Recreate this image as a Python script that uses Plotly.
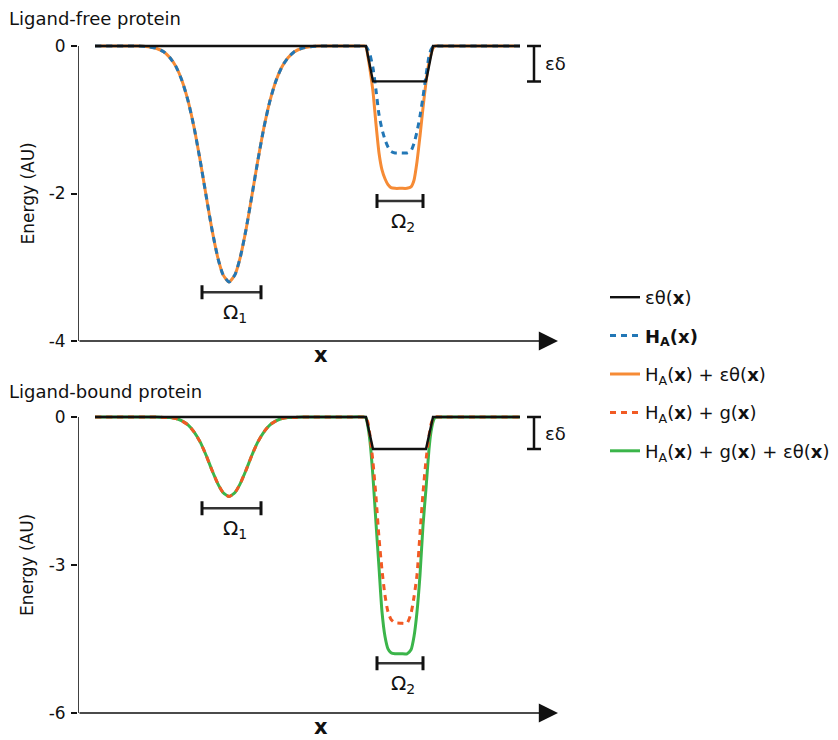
import plotly.graph_objects as go

# ---------------- data ----------------
# position along x (arbitrary units)
x_pos = [17, 50, 60, 70, 78, 86, 92, 98, 104, 110, 116, 122, 128, 134, 140, 145,
         151, 157, 162, 168, 174, 180, 186, 192, 198, 204, 210, 216, 224, 232, 242, 255, 270,
         286, 288, 290, 292, 295, 298, 301, 304, 307, 310, 313, 317, 323, 329, 333,
         336, 339, 342, 345, 348, 351, 353, 355, 357, 365, 400, 442]

# Ligand-free protein
free_HA = [0, 0, 0, -0.01, -0.03, -0.08, -0.16, -0.28, -0.47, -0.74, -1.10, -1.54, -2.02, -2.49, -2.88, -3.10,
           -3.20, -3.10, -2.88, -2.49, -2.02, -1.54, -1.10, -0.74, -0.47, -0.28, -0.16, -0.08, -0.03, -0.01, 0, 0, 0,
           0, -0.01, -0.05, -0.12, -0.30, -0.60, -0.93, -1.13, -1.27, -1.37, -1.43, -1.45, -1.45, -1.45, -1.42,
           -1.32, -1.16, -0.95, -0.69, -0.40, -0.14, -0.05, -0.01, 0, 0, 0, 0]
free_HA_theta = [0, 0, 0, -0.01, -0.03, -0.08, -0.16, -0.28, -0.47, -0.74, -1.10, -1.54, -2.02, -2.49, -2.88, -3.10,
                 -3.20, -3.10, -2.88, -2.49, -2.02, -1.54, -1.10, -0.74, -0.47, -0.28, -0.16, -0.08, -0.03, -0.01, 0, 0, 0,
                 0, -0.01, -0.15, -0.32, -0.62, -1.06, -1.45, -1.68, -1.80, -1.88, -1.92, -1.93, -1.93, -1.93, -1.91,
                 -1.82, -1.57, -1.22, -0.84, -0.49, -0.22, -0.11, -0.03, 0, 0, 0, 0]

# Ligand-bound protein
bound_HA_g = [0, 0, 0, 0, 0, -0.01, -0.01, -0.03, -0.08, -0.16, -0.30, -0.50, -0.77, -1.08, -1.36, -1.53,
              -1.61, -1.53, -1.36, -1.08, -0.77, -0.50, -0.30, -0.16, -0.08, -0.03, -0.01, -0.01, 0, 0, 0, 0, 0,
              0, -0.01, -0.12, -0.38, -0.92, -1.62, -2.45, -3.10, -3.62, -3.95, -4.10, -4.17, -4.18, -4.18, -3.98,
              -3.65, -3.20, -2.36, -1.54, -0.88, -0.38, -0.15, -0.03, 0, 0, 0, 0]
bound_HA_g_theta = [0, 0, 0, 0, 0, -0.01, -0.01, -0.03, -0.08, -0.16, -0.30, -0.50, -0.77, -1.08, -1.36, -1.53,
                    -1.61, -1.53, -1.36, -1.08, -0.77, -0.50, -0.30, -0.16, -0.08, -0.03, -0.01, -0.01, 0, 0, 0, 0, 0,
                    0, -0.02, -0.20, -0.50, -1.22, -2.15, -3.05, -3.95, -4.45, -4.70, -4.78, -4.80, -4.80, -4.80, -4.72,
                    -4.45, -3.95, -3.20, -2.20, -1.45, -0.65, -0.30, -0.10, -0.01, 0, 0, 0]

# epsilon * theta(x): step-like penalty over region Omega_2
theta_x = [17, 288, 295, 348, 355, 442]
free_theta = [0, 0, -0.48, -0.48, 0, 0]
bound_theta = [0, 0, -0.65, -0.65, 0, 0]

# region brackets (x extents) and bracket heights
omega1_x = [124, 183]
omega2_x = [299, 345]
free_omega_y = [-3.34, -2.10]
bound_omega_y = [-1.85, -4.99]
eps_delta_x = 456
free_eps_delta = -0.48
bound_eps_delta = -0.65

free_ticks = [0, -2, -4]
bound_ticks = [0, -3, -6]

# ---------------- styling ----------------
W, H = 838, 740
FONT = "DejaVu Sans"
C_BLACK = "#111111"
C_BLUE = "#2277B6"
C_ORANGE = "#F68B35"
C_RED = "#F15A24"
C_GREEN = "#3BB54A"
LW = 3
DASH = "6px,5px"

X_LEFT, X_RIGHT = 78, 558          # pixel extent of the x axis
X_RANGE = [0, 480]
TOP_Y0, TOP_Y4 = 46, 341           # pixels of y=0 and y=-4 (top)
BOT_Y0, BOT_Y6 = 417, 713          # pixels of y=0 and y=-6 (bottom)


def px2paper_y(p):
    return 1 - p / H


def domain(p_zero, p_min, vmin, pad):
    s = (p_min - p_zero) / (-vmin)
    top = p_zero - pad * s
    bot = p_min + pad * s
    return [px2paper_y(bot), px2paper_y(top)], [vmin - pad, pad]


top_dom, top_rng = domain(TOP_Y0, TOP_Y4, -4, 0.1)
bot_dom, bot_rng = domain(BOT_Y0, BOT_Y6, -6, 0.15)

fig = go.Figure()

# top panel traces
fig.add_trace(go.Scatter(x=x_pos, y=free_HA_theta, mode="lines", xaxis="x", yaxis="y",
                         line=dict(color=C_ORANGE, width=LW, shape="spline", smoothing=0.6),
                         name="H<sub>A</sub>(<b>x</b>) + εθ(<b>x</b>)", legendrank=3))
fig.add_trace(go.Scatter(x=x_pos, y=free_HA, mode="lines", xaxis="x", yaxis="y",
                         line=dict(color=C_BLUE, width=LW, dash=DASH, shape="spline", smoothing=0.6),
                         name="<b>H<sub>A</sub>(x)</b>", legendrank=2))
fig.add_trace(go.Scatter(x=theta_x, y=free_theta, mode="lines", xaxis="x", yaxis="y",
                         line=dict(color=C_BLACK, width=2.4),
                         name="εθ(<b>x</b>)", legendrank=1))

# bottom panel traces
fig.add_trace(go.Scatter(x=x_pos, y=bound_HA_g_theta, mode="lines", xaxis="x2", yaxis="y2",
                         line=dict(color=C_GREEN, width=LW, shape="spline", smoothing=0.6),
                         name="H<sub>A</sub>(<b>x</b>) + g(<b>x</b>) + εθ(<b>x</b>)", legendrank=5))
fig.add_trace(go.Scatter(x=x_pos, y=bound_HA_g, mode="lines", xaxis="x2", yaxis="y2",
                         line=dict(color=C_RED, width=LW, dash=DASH, shape="spline", smoothing=0.6),
                         name="H<sub>A</sub>(<b>x</b>) + g(<b>x</b>)", legendrank=4))
fig.add_trace(go.Scatter(x=theta_x, y=bound_theta, mode="lines", xaxis="x2", yaxis="y2",
                         line=dict(color=C_BLACK, width=2.4), showlegend=False))

xdom = [X_LEFT / W, X_RIGHT / W]
axis_common = dict(showgrid=False, zeroline=False, showline=False, automargin=False)
fig.update_layout(
    width=W, height=H,
    margin=dict(l=0, r=0, t=0, b=0, autoexpand=False),
    paper_bgcolor="white", plot_bgcolor="white",
    font=dict(family=FONT, size=17, color="#111111"),
    xaxis=dict(domain=xdom, range=X_RANGE, visible=False, **axis_common),
    xaxis2=dict(domain=xdom, range=X_RANGE, visible=False, **axis_common),
    yaxis=dict(domain=top_dom, range=top_rng, tickvals=free_ticks, ticktext=[str(t) for t in free_ticks],
               ticks="outside", ticklen=6, tickwidth=1.5, tickcolor="#111111",
               ticklabelstandoff=2, **axis_common),
    yaxis2=dict(domain=bot_dom, range=bot_rng, tickvals=bound_ticks, ticktext=[str(t) for t in bound_ticks],
                ticks="outside", ticklen=6, tickwidth=1.5, tickcolor="#111111",
                ticklabelstandoff=2, anchor="x2", **axis_common),
    showlegend=True,
    legend=dict(x=605 / W, y=px2paper_y(279), xanchor="left", yanchor="top",
                font=dict(family=FONT, size=18, color="#111111"),
                tracegroupgap=12, traceorder="grouped", itemwidth=30,
                bgcolor="rgba(0,0,0,0)"),
)
# separate legend groups to control spacing
for i, tr in enumerate(fig.data):
    tr.legendgroup = f"g{i}"

shapes = []
annotations = []


def add_panel(xr, yr, ymin, xlabel_px, xlabel_anchor, omega_y, eps_val, pix_zero, pix_min, title, title_px):
    # y axis line
    shapes.append(dict(type="line", xref=xr, yref=yr, x0=X_RANGE[0], x1=X_RANGE[0], y0=ymin, y1=0,
                       line=dict(color="#111111", width=1.6)))
    # x axis arrow
    annotations.append(dict(xref=xr, yref=yr, axref=xr, ayref=yr, x=X_RANGE[1], y=ymin,
                            ax=X_RANGE[0], ay=ymin, text="", showarrow=True, arrowhead=2,
                            arrowsize=2.4, arrowwidth=1.6, arrowcolor="#111111", standoff=0))
    # omega brackets
    for k, (xs, yv) in enumerate(zip([omega1_x, omega2_x], omega_y)):
        shapes.append(dict(type="line", xref=xr, yref=yr, x0=xs[0], x1=xs[1], y0=yv, y1=yv,
                           line=dict(color="#333333", width=2.5)))
        for xe in xs:
            shapes.append(dict(type="line", xref=xr, yref=yr, x0=xe, x1=xe, ysizemode="pixel",
                               yanchor=yv, y0=-7, y1=7, line=dict(color="#111111", width=3)))
        annotations.append(dict(xref=xr, yref=yr, x=(xs[0] + xs[1]) / 2 + 3, y=yv, yanchor="top", xanchor="center",
                                yshift=-6, text=f"Ω<sub>{k + 1}</sub>", showarrow=False,
                                font=dict(family=FONT, size=20, color="#111111")))
    # epsilon-delta bracket
    shapes.append(dict(type="line", xref=xr, yref=yr, x0=eps_delta_x, x1=eps_delta_x, y0=0, y1=eps_val,
                       line=dict(color="#111111", width=2.5)))
    for yv in (0, eps_val):
        shapes.append(dict(type="line", xref=xr, yref=yr, y0=yv, y1=yv, xsizemode="pixel",
                           xanchor=eps_delta_x, x0=-7, x1=7, line=dict(color="#111111", width=2.5)))
    annotations.append(dict(xref=xr, yref=yr, x=eps_delta_x, y=eps_val / 2, xanchor="left", yanchor="middle",
                            xshift=9, text="εδ", showarrow=False,
                            font=dict(family=FONT, size=18, color="#111111")))
    # x label
    annotations.append(dict(xref="paper", yref="paper", x=321 / W, y=px2paper_y(xlabel_px),
                            xanchor="center", yanchor=xlabel_anchor, text="<b>x</b>", showarrow=False,
                            borderpad=0, font=dict(family=FONT, size=21, color="#111111")))
    # y title
    annotations.append(dict(xref="paper", yref="paper", x=27 / W, y=px2paper_y((pix_zero + pix_min) / 2),
                            xanchor="center", yanchor="middle", text="Energy (AU)", textangle=-90,
                            showarrow=False, font=dict(family=FONT, size=17, color="#111111")))
    # panel title
    annotations.append(dict(xref="paper", yref="paper", x=7 / W, y=px2paper_y(title_px),
                            xanchor="left", yanchor="middle", text=title, showarrow=False,
                            font=dict(family=FONT, size=18, color="#111111")))


add_panel("x", "y", -4, 355, "middle", free_omega_y, free_eps_delta, TOP_Y0, TOP_Y4, "Ligand-free protein", 19)
add_panel("x2", "y2", -6, 740, "bottom", bound_omega_y, bound_eps_delta, BOT_Y0, BOT_Y6, "Ligand-bound protein", 391)

fig.update_layout(shapes=shapes, annotations=annotations)
# remove the browser's default page margin so the figure sits at the window origin
fig.write_html("out.html", config={"displayModeBar": False},
               post_script="document.body.style.margin='0px';")
